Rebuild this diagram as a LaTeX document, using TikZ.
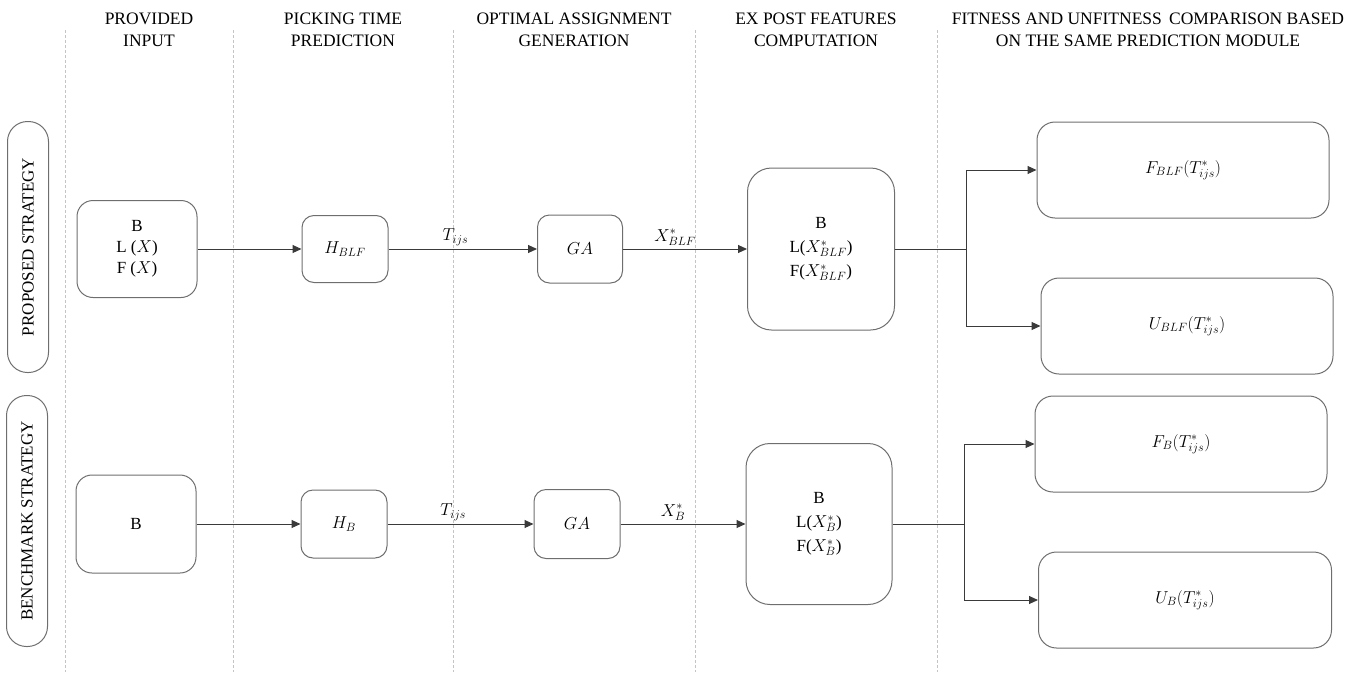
\documentclass[tikz,border=0pt]{standalone}
\usepackage{fontspec}
\setmainfont{Liberation Serif}
\usetikzlibrary{arrows.meta}
\definecolor{boxgray}{HTML}{6E6E6E}
\definecolor{sepgray}{HTML}{C4C4C4}
\definecolor{linegray}{HTML}{3A3A3A}
\begin{document}
\begin{tikzpicture}[x=1pt,y=-1pt,
  box/.style={draw=boxgray, line width=1pt, rounded corners=#1, align=center,
    font=\fontsize{17}{21}\selectfont, inner sep=0pt},
  box/.default=14pt,
  tall/.style={font=\fontsize{17}{24}\selectfont},
  pill/.style={draw=boxgray, line width=1pt, rounded corners=20pt, rotate=90,
    minimum width=251pt, minimum height=41pt, inner sep=0pt,
    font=\fontsize{17}{20}\selectfont},
  hdr/.style={align=center, font=\fontsize{17.5}{22}\selectfont, inner sep=0pt},
  sepline/.style={draw=sepgray, line width=0.6pt, dash pattern=on 3pt off 2pt},
  conn/.style={draw=linegray, line width=1pt},
  arr/.style={conn, -{Triangle[length=9pt,width=8pt]}},
  lbl/.style={font=\fontsize{17}{20}\selectfont, inner sep=3pt}
]
\useasboundingbox (0,0) rectangle (1359,672);

% lane separators
\draw[sepline] (65,30) -- (65,672);
\draw[sepline] (233,30) -- (233,672);
\draw[sepline] (453,30) -- (453,672);
\draw[sepline] (695,30) -- (695,672);
\draw[sepline] (937,30) -- (937,672);

% headers
\node[hdr] (hA) at (149,30) {PROVIDED\\INPUT};
\node[hdr] (hB) at (343,30) {PICKING TIME\\PREDICTION};
\node[hdr] (hC) at (574,30) {OPTIMAL ASSIGNMENT\\GENERATION};
\node[hdr] (hD) at (816,30) {EX POST FEATURES\\COMPUTATION};
\node[hdr] (hE) at (1148,30) {FITNESS AND UNFITNESS\, COMPARISON BASED\\ON THE SAME PREDICTION MODULE};

% strategy labels
\node[pill] (ps) at (28,247) {PROPOSED STRATEGY};
\node[pill] (bs) at (27,521) {BENCHMARK STRATEGY};

% proposed row
\node[box=16pt, minimum width=120pt, minimum height=97pt] (in1) at (137,249) {B\\L ($X$)\\F ($X$)};
\node[box=12pt, minimum width=86pt, minimum height=67pt] (h1) at (345,249) {$H_{BLF}$};
\node[box=12pt, minimum width=85pt, minimum height=68pt] (ga1) at (580,249) {$GA$};
\node[box=24pt, tall, minimum width=147pt, minimum height=162pt] (ep1) at (821,249) {B\\L($X^*_{BLF}$)\\F($X^*_{BLF}$)};
\node[box=18pt, minimum width=292pt, minimum height=96pt] (f1) at (1183,170) {$F_{BLF}(T^*_{ijs})$};
\node[box=18pt, minimum width=292pt, minimum height=96pt] (u1) at (1187,326) {$U_{BLF}(T^*_{ijs})$};

\draw[arr] (in1) -- (h1);
\draw[arr] (h1) -- node[lbl, above, pos=0.45] (t1) {$T_{ijs}$} (ga1);
\draw[arr] (ga1) -- node[lbl, above, pos=0.42] (x1) {$X^*_{BLF}$} (ep1);
\draw[conn] (ep1.east) -- (966,249) coordinate (j1);
\draw[arr] (j1) |- (f1.west);
\draw[arr] (j1) |- (u1.west);

% benchmark row
\node[box=16pt, minimum width=120pt, minimum height=98pt] (in2) at (136,524) {B};
\node[box=12pt, minimum width=86pt, minimum height=68pt] (h2) at (344,524) {$H_{B}$};
\node[box=12pt, minimum width=86pt, minimum height=69pt] (ga2) at (577,524) {$GA$};
\node[box=24pt, tall, minimum width=146pt, minimum height=161pt] (ep2) at (819,524) {B\\L($X^*_{B}$)\\F($X^*_{B}$)};
\node[box=18pt, minimum width=292pt, minimum height=96pt] (f2) at (1181,444) {$F_{B}(T^*_{ijs})$};
\node[box=18pt, minimum width=293pt, minimum height=96pt] (u2) at (1185,600) {$U_{B}(T^*_{ijs})$};

\draw[arr] (in2) -- (h2);
\draw[arr] (h2) -- node[lbl, above, pos=0.45] (t2) {$T_{ijs}$} (ga2);
\draw[arr] (ga2) -- node[lbl, above, pos=0.42] (x2) {$X^*_{B}$} (ep2);
\draw[conn] (ep2.east) -- (964,524) coordinate (j2);
\draw[arr] (j2) |- (f2.west);
\draw[arr] (j2) |- (u2.west);
\end{tikzpicture}
\end{document}
